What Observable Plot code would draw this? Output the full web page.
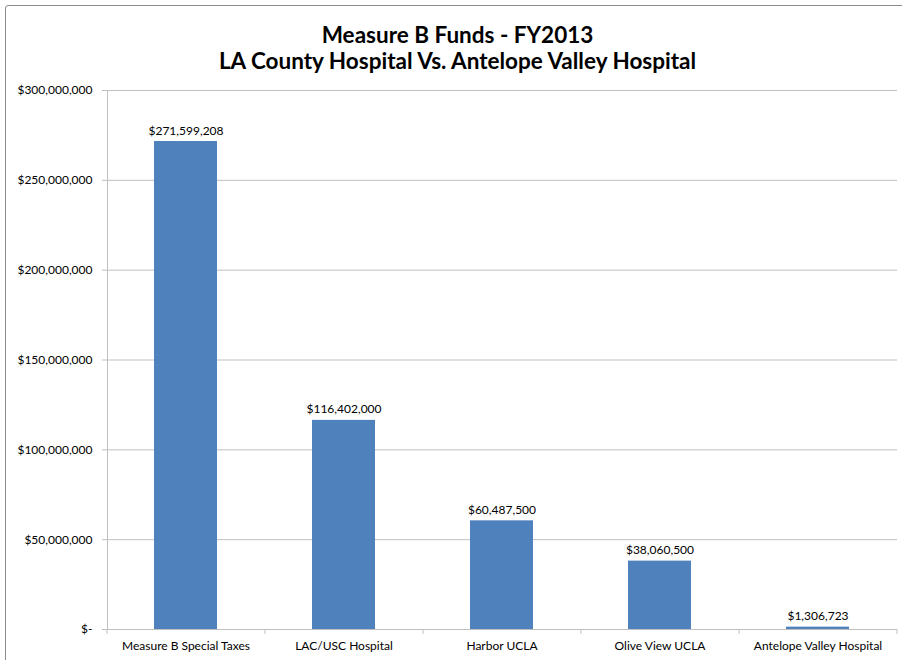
<!DOCTYPE html>
<html>
<head>
<meta charset="utf-8">
<script src="https://cdn.jsdelivr.net/npm/d3@7"></script>
<script src="https://cdn.jsdelivr.net/npm/@observablehq/plot@0.6"></script>
<style>
  html, body { margin: 0; padding: 0; background: #fff; overflow: hidden; }
  #wrap { position: relative; width: 902px; height: 660px; overflow: hidden; }
  #frame { position: absolute; left: 5px; top: 5px; width: 1000px; height: 1000px; border: 1.5px solid #8c8c8c; border-radius: 3px; box-sizing: border-box; }
  #title { position: absolute; left: 0; top: 22px; width: 915px; text-align: center; font-family: Lato, "Open Sans", sans-serif; font-weight: bold; font-size: 22.5px; line-height: 26px; color: #000; }
  #chart { position: absolute; left: 0; top: 0; }
</style>
</head>
<body>
<div id="wrap">
  <div id="frame"></div>
  <div id="chart"></div>
  <div id="title">Measure B Funds - FY2013<br>LA County Hospital Vs. Antelope Valley Hospital</div>
</div>
<script>
const categories = ["Measure B Special Taxes", "LAC/USC Hospital", "Harbor UCLA", "Olive View UCLA", "Antelope Valley Hospital"];
const values = [271599208, 116402000, 60487500, 38060500, 1306723];
const yTicks = [0, 50000000, 100000000, 150000000, 200000000, 250000000, 300000000];

const data = categories.map((c, i) => ({category: c, value: values[i]}));
const money = d => d === 0 ? "$-" : "$" + d3.format(",")(d);

const font = "Lato, 'Open Sans', sans-serif";
const gridColor = "#bfbfbf";
const step = 158;

const chart = Plot.plot({
  width: 902,
  height: 660,
  marginTop: 90,
  marginBottom: 31,
  marginLeft: 107,
  marginRight: 5,
  style: {fontFamily: font, fontSize: "12px", color: "#000", background: "transparent"},
  x: {domain: categories, paddingInner: 0.6, paddingOuter: 0.3, label: null},
  y: {domain: [0, 300000000], label: null},
  marks: [
    Plot.gridY(yTicks, {stroke: gridColor, strokeOpacity: 1}),
    Plot.axisY(yTicks, {tickFormat: money, tickSize: 5, tickPadding: 10, stroke: gridColor, fontSize: 12, label: null}),
    Plot.frame({anchor: "left", stroke: gridColor}),
    Plot.axisX({tickSize: 0, tickPadding: 12, fontSize: 12, label: null}),
    Plot.axisX({tickSize: 5, text: null, dx: -step / 2, stroke: gridColor, label: null}),
    Plot.axisX([categories[categories.length - 1]], {tickSize: 5, text: null, dx: step / 2, stroke: gridColor, label: null}),
    Plot.barY(data, {x: "category", y: "value", fill: "#4f81bd"}),
    Plot.text(data, {x: "category", y: "value", text: d => money(d.value), lineAnchor: "bottom", dy: -7, fontSize: 12, fill: "#000"})
  ]
});
document.getElementById("chart").appendChild(chart);
</script>
</body>
</html>
